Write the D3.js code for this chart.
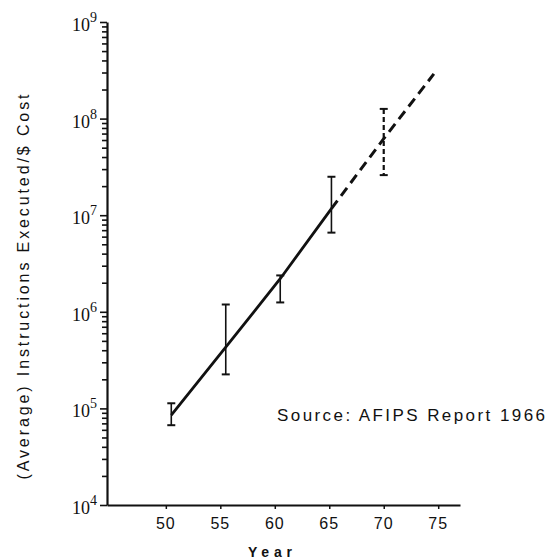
<!DOCTYPE html>
<html>
<head>
<meta charset="utf-8">
<script src="https://cdn.jsdelivr.net/npm/d3@7"></script>
<style>
  body { margin: 0; background: #fff; }
  svg { display: block; }
</style>
</head>
<body>
<div id="chart"></div>
<script>
// Error bar ranges
const barYears = [50.5, 55.5, 60.5, 65.2, 70];
const barLow = [6.7e4, 2.25e5, 1.25e6, 6.6e6, 2.6e7];
const barHigh = [1.13e5, 1.19e6, 2.38e6, 2.5e7, 1.26e8];
const barProjected = [false, false, false, false, true];

// Trend line: measured part and projected part
const solidYears = [50.5, 55.5, 60.5, 65.2];
const solidValues = [8.5e4, 4.3e5, 2.2e6, 1.17e7];
const dashedYears = [65.2, 70, 74.6];
const dashedValues = [1.17e7, 6.2e7, 2.9e8];

const xTickValues = [50, 55, 60, 65, 70, 75];
const yDecades = [4, 5, 6, 7, 8, 9];

const width = 560;
const height = 559;

const x = d3.scaleLinear().domain([44.6, 77]).range([107, 460]);
const y = d3.scaleLog().domain([1e4, 1e9]).range([505, 22]);

const svg = d3
  .select("#chart")
  .append("svg")
  .attr("width", width)
  .attr("height", height);

// y axis with major + minor ticks
const yTicks = [];
yDecades.forEach((p) => {
  const base = Math.pow(10, p);
  yTicks.push(base);
  if (p < 9) for (let m = 2; m <= 9; m++) yTicks.push(base * m);
});

const yAxis = svg
  .append("g")
  .attr("transform", `translate(${x.range()[0]},0)`)
  .call(d3.axisLeft(y).tickValues(yTicks).tickSize(5).tickSizeOuter(0).tickFormat(""));

yAxis.select(".domain").attr("stroke", "#111").attr("stroke-width", 2.2);
yAxis
  .selectAll(".tick line")
  .attr("stroke", "#111")
  .attr("stroke-width", 1.6)
  .attr("x2", (d) => (Number.isInteger(Math.log10(d)) ? -7 : -5));

// y tick labels as 10^n
const yLabels = svg
  .append("g")
  .selectAll("text")
  .data(yDecades)
  .enter()
  .append("text")
  .attr("x", 97)
  .attr("y", (p) => y(Math.pow(10, p)) + 9)
  .attr("text-anchor", "end")
  .attr("font-family", "Liberation Serif, serif")
  .attr("font-size", 18)
  .attr("fill", "#111");
yLabels.append("tspan").text("10");
yLabels
  .append("tspan")
  .attr("dy", -9)
  .attr("font-size", 14)
  .text((p) => p);

// x axis
const xAxis = svg
  .append("g")
  .attr("transform", `translate(0,${y.range()[0]})`)
  .call(d3.axisBottom(x).tickValues(xTickValues).tickSize(4).tickSizeOuter(0).tickFormat(""));

xAxis.select(".domain").attr("stroke", "#111").attr("stroke-width", 2.2);
xAxis.selectAll(".tick line").attr("stroke", "#111").attr("stroke-width", 1.5);

svg
  .append("g")
  .selectAll("text")
  .data(xTickValues)
  .enter()
  .append("text")
  .attr("x", (d) => x(d))
  .attr("y", 529)
  .attr("text-anchor", "middle")
  .attr("font-family", "Liberation Sans, sans-serif")
  .attr("font-size", 16)
  .attr("letter-spacing", 1)
  .attr("fill", "#111")
  .text((d) => d);

// error bars
const bars = svg
  .append("g")
  .selectAll("g")
  .data(barYears.map((yr, i) => ({ yr, lo: barLow[i], hi: barHigh[i], proj: barProjected[i] })))
  .enter()
  .append("g")
  .attr("stroke", "#111");

bars
  .append("line")
  .attr("x1", (d) => x(d.yr))
  .attr("x2", (d) => x(d.yr))
  .attr("y1", (d) => y(d.hi))
  .attr("y2", (d) => y(d.lo))
  .attr("stroke-width", (d) => (d.proj ? 2.2 : 1.6))
  .attr("stroke-dasharray", (d) => (d.proj ? "5,3" : null));

["hi", "lo"].forEach((k) => {
  bars
    .append("line")
    .attr("x1", (d) => x(d.yr) - 4)
    .attr("x2", (d) => x(d.yr) + 4)
    .attr("y1", (d) => y(d[k]))
    .attr("y2", (d) => y(d[k]))
    .attr("stroke-width", 2);
});

// trend line
const line = d3
  .line()
  .x((d) => x(d[0]))
  .y((d) => y(d[1]));

svg
  .append("path")
  .attr("d", line(d3.zip(solidYears, solidValues)))
  .attr("fill", "none")
  .attr("stroke", "#111")
  .attr("stroke-width", 2.8);

svg
  .append("path")
  .attr("d", line(d3.zip(dashedYears, dashedValues)))
  .attr("fill", "none")
  .attr("stroke", "#111")
  .attr("stroke-width", 3)
  .attr("stroke-dasharray", "10,6");

// texts
svg
  .append("text")
  .attr("x", 277)
  .attr("y", 421)
  .attr("font-family", "Liberation Sans, sans-serif")
  .attr("font-size", 17)
  .attr("textLength", 268)
  .attr("lengthAdjust", "spacing")
  .attr("fill", "#111")
  .text("Source: AFIPS Report 1966");

svg
  .append("text")
  .attr("x", 248)
  .attr("y", 557)
  .attr("font-family", "Liberation Sans, sans-serif")
  .attr("font-size", 14)
  .attr("font-weight", "bold")
  .attr("textLength", 44)
  .attr("lengthAdjust", "spacing")
  .attr("fill", "#111")
  .text("Year");

svg
  .append("text")
  .attr("transform", "translate(29,287) rotate(-90)")
  .attr("text-anchor", "middle")
  .attr("font-family", "Liberation Sans, sans-serif")
  .attr("font-size", 16)
  .attr("textLength", 385)
  .attr("lengthAdjust", "spacing")
  .attr("fill", "#111")
  .text("(Average) Instructions Executed/$ Cost");
</script>
</body>
</html>
